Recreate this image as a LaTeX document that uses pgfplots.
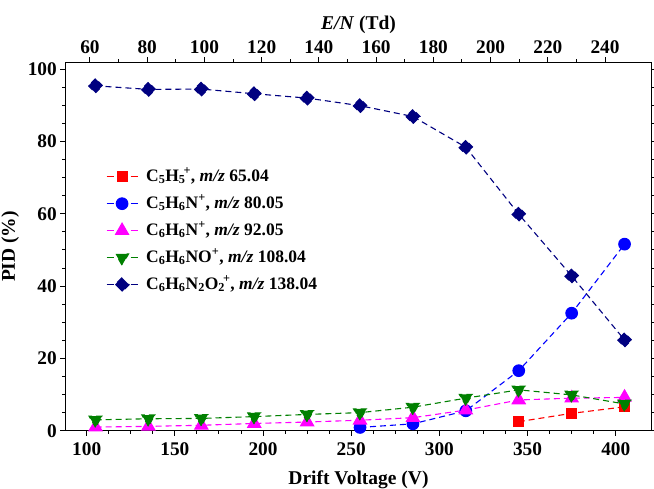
\documentclass[border=0pt]{standalone}
\usepackage{pgfplots}
\pgfplotsset{compat=1.18}
\usepackage{fontspec}
\setmainfont{Liberation Serif}
\definecolor{cred}{RGB}{255,0,0}
\definecolor{cblue}{RGB}{0,0,255}
\definecolor{cmag}{RGB}{255,0,255}
\definecolor{cgreen}{RGB}{0,128,0}
\definecolor{cnavy}{RGB}{0,0,128}
\pgfplotsset{
  ser/.style={color=#1, line width=1.1bp, dash pattern=on 6bp off 4bp,
    mark options={solid, fill=#1, draw=#1}},
}
\begin{document}
\begin{tikzpicture}
\useasboundingbox (0,0) rectangle (654bp,489bp);
\begin{axis}[
  at={(65.3bp,58.3bp)}, anchor=south west, scale only axis,
  width=586.4bp, height=368.4bp,
  xmin=87.86, xmax=420.4, ymin=0, ymax=101.9,
  xtick={100,150,...,400}, minor x tick num=3,
  ytick={0,20,...,100}, minor y tick num=3,
  xtick pos=bottom, ytick pos=both, yticklabel pos=left,
  tick align=outside,
  major tick length=5bp, minor tick length=3bp,
  every tick/.style={line width=1bp, black},
  axis line style={line width=1.3bp},
  xlabel={Drift Voltage (V)}, ylabel={PID (\%)},
  label style={font=\bfseries\fontsize{19.5bp}{22bp}\selectfont},
  xlabel style={yshift=-9bp},
  ylabel style={yshift=2bp},
  ticklabel style={font=\bfseries\fontsize{19.3bp}{22bp}\selectfont},
  xticklabel style={yshift=-3bp},
  /pgf/number format/assume math mode=true,
  legend cell align=left,
  legend style={at={(0.064,0.7185)}, anchor=north west, draw=none, fill=none,
    font=\bfseries\fontsize{17.5bp}{20bp}\selectfont,
    row sep=10bp, column sep=8bp,
    nodes={inner sep=0pt, text height=13bp, text depth=4bp}},
  legend image code/.code={
    \draw[mark repeat=2, mark phase=2, dash pattern=on 7bp off 17bp]
      plot coordinates {(0bp,0bp) (15.5bp,0bp) (31bp,0bp)};
  },
]
\addplot[ser=cred, mark=square*, mark size=5bp] coordinates {
  (345,2.5) (375,4.8) (405,6.6)};
\addlegendentry{C\textsubscript{5}H\textsubscript{5}\kern-0.12em\textsuperscript{+}, \textit{m/z} 65.04}
\addplot[ser=cblue, mark=*, mark size=5.8bp] coordinates {
  (255,0.9) (285,1.9) (315,5.5) (345,16.6) (375,32.5) (405,51.6)};
\addlegendentry{C\textsubscript{5}H\textsubscript{6}N\textsuperscript{+}, \textit{m/z} 80.05}
\addplot[ser=cmag, mark=triangle*, mark size=7.5bp] coordinates {
  (105,1.0) (135,1.2) (165,1.5) (195,2.0) (225,2.4) (255,2.9) (285,3.6)
  (315,5.7) (345,8.5) (375,9.0) (405,9.2)};
\addlegendentry{C\textsubscript{6}H\textsubscript{6}N\textsuperscript{+}, \textit{m/z} 92.05}
\addplot[ser=cgreen, mark=triangle*, mark size=7.5bp, mark options={rotate=180}] coordinates {
  (105,3.0) (135,3.3) (165,3.4) (195,3.9) (225,4.5) (255,5.0) (285,6.5)
  (315,9.0) (345,11.3) (375,9.9) (405,7.4)};
\addlegendentry{C\textsubscript{6}H\textsubscript{6}NO\textsuperscript{+}, \textit{m/z} 108.04}
\addplot[ser=cnavy, mark=square*, mark size=5bp, mark options={rotate=45}] coordinates {
  (105,95.4) (135,94.4) (165,94.5) (195,93.2) (225,92.0) (255,89.9) (285,86.9)
  (315,78.4) (345,59.9) (375,42.8) (405,25.1)};
\addlegendentry{C\textsubscript{6}H\textsubscript{6}N\textsubscript{2}O\textsubscript{2}\kern-0.12em\textsuperscript{+}, \textit{m/z} 138.04}
\end{axis}
\begin{axis}[
  at={(65.3bp,58.3bp)}, anchor=south west, scale only axis,
  width=586.4bp, height=368.4bp,
  xmin=51.37, xmax=256.3, ymin=0, ymax=1,
  axis x line*=top, axis y line=none,
  xtick={60,80,...,240}, minor x tick num=1,
  tick align=outside,
  major tick length=5bp, minor tick length=3bp,
  every tick/.style={line width=1bp, black},
  axis line style={line width=1.3bp},
  xlabel={\textit{E/N} (Td)},
  label style={font=\bfseries\fontsize{19.5bp}{22bp}\selectfont},
  ticklabel style={font=\bfseries\fontsize{19.3bp}{22bp}\selectfont},
  /pgf/number format/assume math mode=true,
]
\end{axis}
\end{tikzpicture}
\end{document}
